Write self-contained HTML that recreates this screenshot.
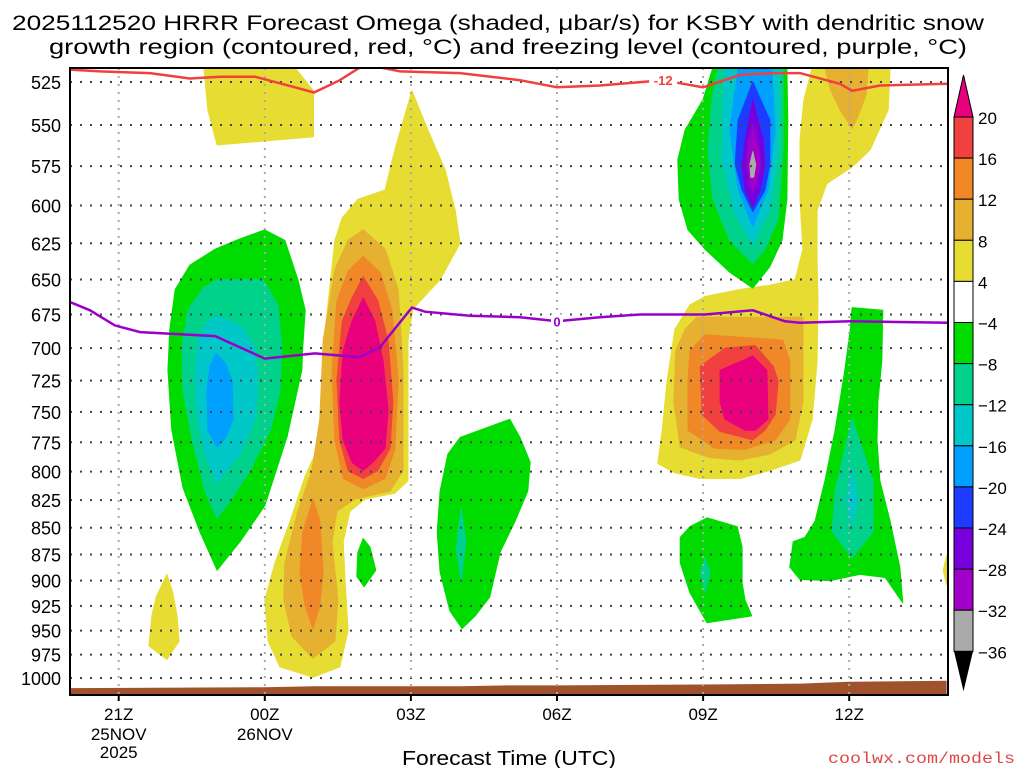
<!DOCTYPE html>
<html><head><meta charset="utf-8"><style>
html,body{margin:0;padding:0;background:#fff;}
svg{display:block;font-family:"Liberation Sans",sans-serif;}
</style></head><body>
<svg id="chart" width="1024" height="768" viewBox="0 0 1024 768" xmlns="http://www.w3.org/2000/svg">
<defs><clipPath id="plotclip"><rect x="70" y="68" width="878" height="627"/></clipPath></defs>
<text x="498" y="30" font-size="21" text-anchor="middle" textLength="972" lengthAdjust="spacingAndGlyphs">2025112520 HRRR Forecast Omega (shaded, μbar/s) for KSBY with dendritic snow</text>
<text x="508" y="54" font-size="21" text-anchor="middle" textLength="918" lengthAdjust="spacingAndGlyphs">growth region (contoured, red, °C) and freezing level (contoured, purple, °C)</text>
<g id="fills" clip-path="url(#plotclip)"></g>
<g id="grid"></g>
<g id="lines" clip-path="url(#plotclip)"></g>
<g id="axes"></g>
<g id="cbar"></g>
<text x="509" y="765" font-size="20" text-anchor="middle" textLength="214" lengthAdjust="spacingAndGlyphs">Forecast Time (UTC)</text>
<text x="1015" y="763" font-size="16" fill="#e04848" text-anchor="end" font-family="Liberation Mono, monospace" textLength="187" lengthAdjust="spacingAndGlyphs">coolwx.com/models</text>
</svg>
<script>
// ---- data ----
const pressureTicks = [525,550,575,600,625,650,675,700,725,750,775,800,825,850,875,900,925,950,975,1000];
const timeTickHours = [21,24,27,30,33,36];
const timeTickLabels = ['21Z','00Z','03Z','06Z','09Z','12Z'];
const timeTickDates = [['25NOV','2025'],['26NOV',''],['',''],['',''],['',''],['','']];
const colorLevels = ['20','16','12','8','4','-4','-8','-12','-16','-20','-24','-28','-32','-36'];
const levelColors = {Y:'#e6dc32',D:'#e6b030',O:'#f08828',R:'#f04040',P:'#e8007c',G:'#00dc00',T:'#00d28c',C:'#00c8c8',L:'#00a0ff',B:'#1e3cff',V:'#7800dc',M:'#a000c8',X:'#aaaaaa'};
const cbarColors = ['#f04040','#f08828','#e6b030','#e6dc32','#ffffff','#00dc00','#00d28c','#00c8c8','#00a0ff','#1e3cff','#7800dc','#a000c8','#aaaaaa'];
const omegaYellow = [
 [[22.75,517],[24.62,517],[25.0,530],[25.0,557],[23.02,562],[22.83,541]],
 [[27.02,530],[27.35,553],[27.70,577],[27.91,603],[28.01,625],[27.60,650],[27.04,671],[26.94,694],[26.94,808],[26.67,819],[26.06,824],[25.75,835],[25.61,863],[25.65,902],[25.71,950],[25.54,988],[24.99,999],[24.31,988],[24.07,961],[24.00,919],[24.21,883],[24.52,844],[24.83,804],[25.09,780],[25.17,742],[25.24,686],[25.44,623],[25.59,608],[25.91,596],[26.47,590],[26.67,565]],
 [[21.99,894],[22.11,912],[22.20,935],[22.24,961],[21.99,980],[21.62,966],[21.68,935],[21.77,916]],
 [[35.24,517],[36.84,517],[36.80,541],[36.43,565],[36.08,575],[35.54,586],[35.34,603],[35.34,636],[35.36,665],[35.34,710],[35.24,756],[34.99,790],[34.37,799],[33.76,806],[32.94,806],[32.42,801],[32.07,793],[32.16,765],[32.26,725],[32.42,686],[32.73,668],[33.04,662],[33.76,657],[34.37,654],[34.89,650],[35.05,629],[34.99,596],[34.99,559],[35.07,535]],
 [[38.0,876],[38.1,890],[38.0,904],[37.93,890]]
];
const omegaDarkYellow = [
 [[26.02,616],[26.47,629],[26.74,657],[26.84,717],[26.84,799],[26.57,817],[25.85,824],[25.48,835],[25.38,863],[25.50,919],[25.44,961],[24.99,979],[24.56,956],[24.39,919],[24.41,883],[24.68,835],[24.97,799],[25.13,756],[25.20,694],[25.44,643],[25.71,623]],
 [[35.50,517],[36.39,517],[36.35,532],[36.18,545],[36.06,552],[35.81,541],[35.61,529]],
 [[32.87,677],[35.05,677],[35.05,742],[34.89,773],[34.37,785],[33.76,790],[33.14,788],[32.53,779],[32.40,742],[32.44,702],[32.63,686]]
];
const omegaOrange = [
 [[26.02,634],[26.37,645],[26.61,672],[26.74,725],[26.67,781],[26.47,806],[26.02,815],[25.61,806],[25.44,773],[25.38,717],[25.48,665],[25.71,644]],
 [[24.99,824],[25.13,844],[25.20,892],[25.13,925],[24.99,948],[24.83,925],[24.72,892],[24.78,854]],
 [[33.04,690],[34.64,694],[34.78,710],[34.78,756],[34.48,773],[33.86,781],[33.24,780],[32.69,765],[32.69,725],[32.73,702]]
];
const omegaRed = [
 [[26.02,648],[26.32,665],[26.53,694],[26.63,742],[26.57,780],[26.32,799],[26.02,806],[25.71,799],[25.54,773],[25.48,725],[25.59,680],[25.79,663]],
 [[32.94,714],[33.45,700],[34.07,698],[34.44,714],[34.54,725],[34.48,752],[34.27,765],[34.02,773],[33.35,766],[32.98,752]]
];
const omegaPink = [
 [[26.02,663],[26.26,680],[26.43,710],[26.53,748],[26.47,780],[26.22,792],[26.02,799],[25.79,792],[25.61,773],[25.54,742],[25.61,702],[25.79,680]],
 [[33.35,717],[34.02,706],[34.31,717],[34.33,756],[34.07,765],[33.86,765],[33.45,756],[33.35,742]]
];
const omegaGreen = [
 [[24.00,616],[24.41,623],[24.68,650],[24.83,672],[24.78,699],[24.76,717],[24.46,770],[24.00,830],[23.49,863],[23.02,890],[22.67,854],[22.32,814],[22.09,765],[22.01,717],[22.05,686],[22.16,657],[22.46,640],[22.98,629],[23.49,622]],
 [[26.02,860],[26.16,868],[26.28,890],[26.04,906],[25.89,896],[25.91,873]],
 [[28.01,771],[29.03,756],[29.24,771],[29.45,792],[29.40,817],[29.14,844],[28.83,873],[28.62,916],[28.32,935],[28.05,948],[27.80,930],[27.60,892],[27.54,854],[27.60,817],[27.76,785]],
 [[33.20,517],[34.72,517],[34.74,547],[34.72,596],[34.62,623],[34.37,641],[34.02,656],[33.55,645],[33.04,629],[32.69,616],[32.51,596],[32.48,571],[32.63,553],[33.00,535]],
 [[36.06,670],[36.69,672],[36.67,710],[36.59,742],[36.57,773],[36.63,808],[36.84,844],[37.04,887],[37.10,922],[36.74,897],[36.22,894],[35.61,900],[34.99,899],[34.78,887],[34.85,863],[35.09,859],[35.30,844],[35.50,808],[35.71,765],[35.91,717],[36.02,686]],
 [[33.08,841],[33.70,849],[33.80,868],[33.80,902],[33.86,919],[34.00,935],[33.08,942],[32.94,930],[32.73,912],[32.53,883],[32.53,859],[32.73,849]]
];
const omegaTeal = [
 [[23.02,650],[23.96,650],[24.27,668],[24.35,699],[24.31,733],[24.11,765],[23.70,799],[23.29,826],[23.02,841],[22.77,817],[22.51,773],[22.32,733],[22.30,699],[22.42,672],[22.73,656]],
 [[28.03,832],[28.13,863],[28.03,902],[27.93,868]],
 [[33.31,517],[34.64,517],[34.64,565],[34.54,609],[34.27,629],[34.02,639],[33.55,623],[33.20,596],[33.10,565],[33.18,535]],
 [[36.06,755],[36.49,808],[36.49,854],[36.06,878],[35.65,854],[35.71,817],[35.91,781]],
 [[33.04,878],[33.14,892],[33.04,912],[32.94,892]]
];
const omegaCyan = [
 [[23.04,676],[23.49,683],[23.80,699],[23.86,725],[23.80,756],[23.49,785],[23.02,810],[22.77,785],[22.61,752],[22.57,717],[22.63,694],[22.81,681]],
 [[33.45,517],[34.58,517],[34.54,565],[34.37,603],[34.02,626],[33.66,606],[33.39,571],[33.41,535]],
 [[36.06,796],[36.18,826],[36.06,849],[35.95,826]]
];
const omegaLightBlue = [
 [[23.00,704],[23.18,711],[23.33,725],[23.35,756],[23.20,771],[23.02,779],[22.83,765],[22.81,733],[22.87,714]],
 [[33.72,517],[34.41,517],[34.48,553],[34.33,590],[34.02,614],[33.72,590],[33.55,553]]
];
const omegaBlue = [[[34.02,525],[34.37,547],[34.37,574],[34.27,590],[34.02,604],[33.80,590],[33.66,574],[33.72,547]]];
const omegaPurple = [[[34.02,535],[34.23,559],[34.27,574],[34.17,590],[34.02,601],[33.86,590],[33.80,574],[33.86,559]]];
const omegaViolet = [[[34.02,550],[34.15,565],[34.17,577],[34.08,586],[34.02,592],[33.94,583],[33.90,574],[33.94,562]]];
const omegaGray = [[[34.02,566],[34.08,574],[34.04,582],[33.98,582],[33.96,574]]];
const surfaceHours = [20,24,25,28,29,30,33,35,36,38];
const surfacePressure = [1011,1010,1009,1009,1008,1008,1007,1006,1004,1003];
const snowLineHours = [20,20.62,21.64,22.46,23.08,23.80,24.62,25.01,25.54,26.0,26.22,26.78,28.01,29.24,30.0,30.88,32.18,33.0,33.76,34.44,34.99,35.81,36.06,36.63,38.03];
const snowLinePressure = [518,519,520,523,522,522,528,531,524,516,516,519,520,524,528,527,524,528,521,520,520,526,530,527,526];
const freezeHours = [20,20.41,20.92,21.44,22.98,24.0,25.03,25.95,26.37,27.02,27.29,28.21,29.24,30.0,30.88,31.70,33.04,34.02,34.68,34.99,36.02,38.03];
const freezePressure = [666,672,683,688,691,708,704,707,699,670,673,676,677,680,677,675,675,672,680,681,680,681];

// ---- axis functions ----
const X0=70, X1=948, Y0=68, Y1=695;
const H0=20, PXH=48.7;
function xs(h){ return X0 + (h-H0)*PXH; }
function ys(p){ return 82 + 925*Math.log(p/525); }
const NS='http://www.w3.org/2000/svg';
function mk(tag, attrs, parent){ const e=document.createElementNS(NS,tag); for(const k in attrs) e.setAttribute(k,attrs[k]); parent.appendChild(e); return e; }

const fills=document.getElementById('fills');
const layers=[['Y',omegaYellow,'yellow'],['D',omegaDarkYellow,'dark-yellow'],['O',omegaOrange,'orange'],['R',omegaRed,'red'],['P',omegaPink,'pink'],['G',omegaGreen,'green'],['T',omegaTeal,'teal'],['C',omegaCyan,'cyan'],['L',omegaLightBlue,'light-blue'],['B',omegaBlue,'blue'],['V',omegaPurple,'purple'],['M',omegaViolet,'violet'],['X',omegaGray,'gray']];
layers.forEach(([k,polys,nm])=>{
  polys.forEach(poly=>{
    const pts=poly.map(([h,p])=>xs(h).toFixed(1)+','+ys(p).toFixed(1)).join(' ');
    const el=mk('polygon',{points:pts,fill:levelColors[k],stroke:levelColors[k],'stroke-width':'1','stroke-linejoin':'round'},fills);
    
    
  });
});
{
  let d='M'+xs(surfaceHours[0])+','+Y1;
  surfaceHours.forEach((h,i)=>{ d+=' L'+xs(h).toFixed(1)+','+ys(surfacePressure[i]).toFixed(1); });
  d+=' L'+xs(surfaceHours[surfaceHours.length-1])+','+Y1+' Z';
  const g=mk('path',{d:d,fill:'#a0522d'},fills);
  
  
}
const grid=document.getElementById('grid');
pressureTicks.forEach(p=>{
  const l=mk('line',{x1:X0,x2:X1,y1:ys(p),y2:ys(p),stroke:'#444','stroke-width':'2','stroke-dasharray':'2 8'},grid);
  
  
});
timeTickHours.forEach(h=>{
  const l=mk('line',{x1:xs(h),x2:xs(h),y1:Y0,y2:Y1,stroke:'#aaa','stroke-width':'2','stroke-dasharray':'2 6'},grid);
  
  
});
const lines=document.getElementById('lines');
function poly(hs,ps){ return hs.map((h,i)=>xs(h).toFixed(1)+','+ys(ps[i]).toFixed(1)).join(' '); }
const sl=mk('polyline',{points:poly(snowLineHours,snowLinePressure),fill:'none',stroke:'#f04040','stroke-width':'2.5'},lines);


const fl=mk('polyline',{points:poly(freezeHours,freezePressure),fill:'none',stroke:'#9a00c8','stroke-width':'2.5'},lines);


{
  const lx=xs(32.18), ly=ys(524);
  mk('rect',{x:lx-14,y:ly-7,width:28,height:14,fill:'#fff'},lines);
  const t=mk('text',{x:lx,y:ly+5,'font-size':'13','font-weight':'bold',fill:'#f04040','text-anchor':'middle'},lines);
  t.textContent='-12';
  
  
  const fx=xs(30.0), fy=ys(680);
  mk('rect',{x:fx-6,y:fy-7,width:12,height:14,fill:'#fff'},lines);
  const t2=mk('text',{x:fx,y:fy+5,'font-size':'13','font-weight':'bold',fill:'#9a00c8','text-anchor':'middle'},lines);
  t2.textContent='0';
  
  
}
const axes=document.getElementById('axes');
const fr=mk('rect',{x:X0,y:Y0,width:X1-X0,height:Y1-Y0,fill:'none',stroke:'#000','stroke-width':'2'},axes);


pressureTicks.forEach(p=>{
  const t=mk('text',{x:61,y:ys(p)+7,'font-size':'18','text-anchor':'end'},axes);
  t.textContent=String(p);
  
  
});
timeTickHours.forEach((h,i)=>{
  mk('line',{x1:xs(h),x2:xs(h),y1:Y1,y2:Y1+6,stroke:'#000','stroke-width':'2'},axes);
  const t=mk('text',{x:xs(h),y:720,'font-size':'17','text-anchor':'middle'},axes);
  t.textContent=timeTickLabels[i];
  
  
  timeTickDates[i].forEach((s,j)=>{ if(!s) return;
    const d=mk('text',{x:xs(h),y:740+j*18,'font-size':'17','text-anchor':'middle'},axes);
    d.textContent=s;
    
    
  });
});
const cb=document.getElementById('cbar');
const CX=954, CW=19, CT=117, CH=41.1;
mk('polygon',{points:`${CX},${CT} ${CX+CW},${CT} ${CX+CW/2},${CT-42}`,fill:'#e8007c',stroke:'#000','stroke-width':'1'},cb);
cbarColors.forEach((c,i)=>{
  const r=mk('rect',{x:CX,y:CT+i*CH,width:CW,height:CH,fill:c,stroke:'#000','stroke-width':'1'},cb);
  
  
});
const cbBot=CT+cbarColors.length*CH;
mk('polygon',{points:`${CX},${cbBot} ${CX+CW},${cbBot} ${CX+CW/2},${cbBot+40}`,fill:'#000'},cb);
colorLevels.forEach((s,i)=>{
  const t=mk('text',{x:978,y:CT+i*CH+7,'font-size':'17'},cb);
  t.textContent=s.replace('-','\u2212');
  
  
});
</script>
</body></html>
